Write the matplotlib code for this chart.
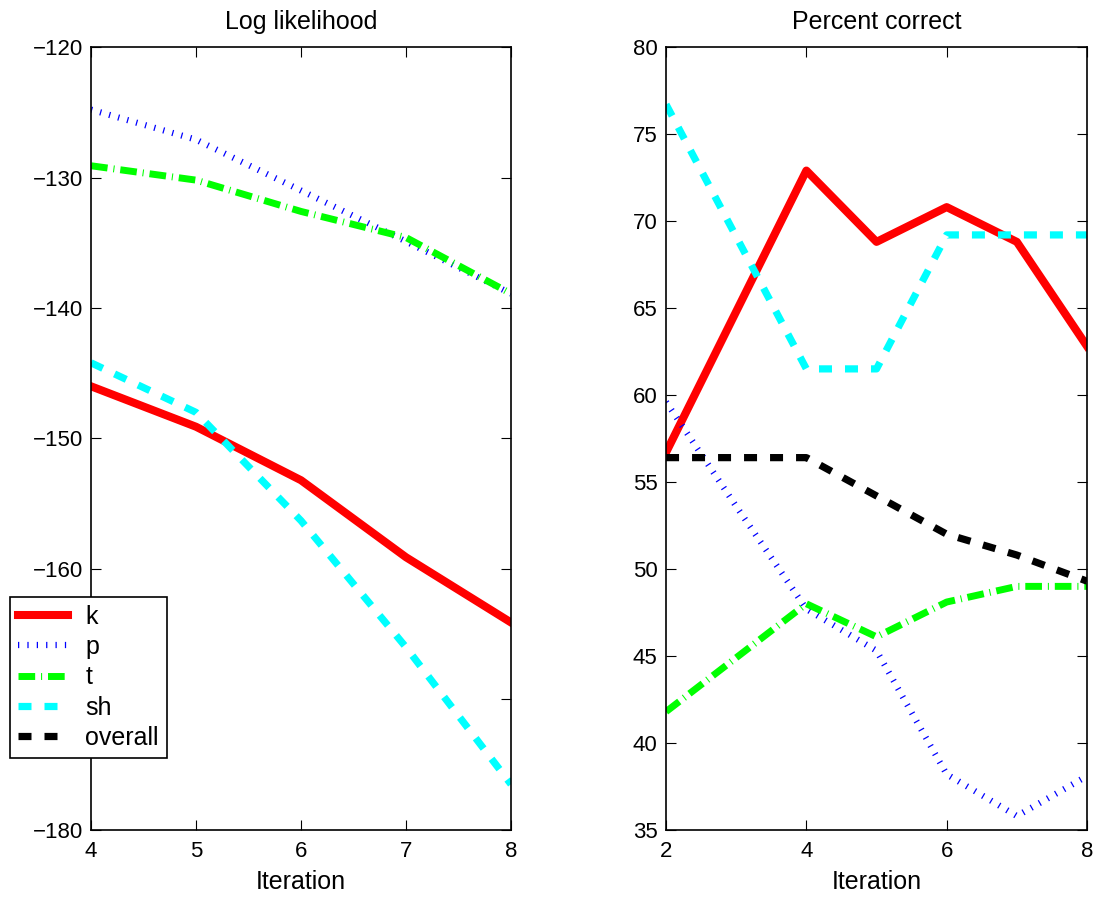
import matplotlib
matplotlib.use("Agg")
import matplotlib.pyplot as plt

plt.rcParams['font.family'] = ['Liberation Sans', 'DejaVu Sans']

# log likelihood per iteration
it_ll = [4, 5, 6, 7, 8]
ll_k = [-146.0, -149.1, -153.2, -159.1, -164.1]
ll_p = [-124.8, -127.1, -131.0, -134.9, -138.9]
ll_t = [-129.1, -130.2, -132.6, -134.6, -138.9]
ll_sh = [-144.2, -148.0, -156.3, -166.0, -176.5]

# percent correct per iteration
it_pc = [2, 3, 4, 5, 6, 7, 8]
pc_k = [56.7, 64.8, 72.9, 68.8, 70.8, 68.8, 62.8]
pc_p = [59.6, 53.6, 47.7, 45.3, 38.2, 35.8, 38.1]
pc_t = [41.8, 44.9, 48.0, 46.1, 48.1, 49.0, 49.0]
pc_sh = [76.7, 69.1, 61.5, 61.5, 69.2, 69.2, 69.2]
pc_all = [56.4, 56.4, 56.4, 54.2, 52.0, 50.8, 49.3]

labels = ['k', 'p', 't', 'sh', 'overall']

styles = {
    'k': dict(color='#ff0000', lw=5.8, ls='-'),
    'p': dict(color='#0000ff', lw=4.5, ls=(0, (0.2, 1.3)), dash_capstyle='butt'),
    't': dict(color='#00ff00', lw=5.0, ls=(0, (2.4, 0.85, 0.15, 0.85)), dash_capstyle='butt'),
    'sh': dict(color='#00ffff', lw=5.2, ls=(0, (1.8, 1.8)), dash_capstyle='butt'),
    'overall': dict(color='#000000', lw=5.2, ls=(0, (1.8, 1.8)), dash_capstyle='butt'),
}

tick_fs = 16
lab_fs = 18
fig = plt.figure(figsize=(11.02, 8.99), dpi=100)
ax1 = fig.add_axes([0.0826, 0.0768, 0.3811, 0.8709])
ax2 = fig.add_axes([0.6044, 0.0768, 0.3820, 0.8709])

handles = []
for name, ys in zip(labels[:4], [ll_k, ll_p, ll_t, ll_sh]):
    h, = ax1.plot(it_ll, ys, label=name, **styles[name])
    handles.append(h)
h, = ax1.plot([], [], label='overall', **styles['overall'])
handles.append(h)

for name, ys in zip(labels, [pc_k, pc_p, pc_t, pc_sh, pc_all]):
    ax2.plot(it_pc, ys, label=name, **styles[name])

ax1.set_xlim(4, 8)
ax1.set_ylim(-180, -120)
ax1.set_xticks([4, 5, 6, 7, 8])
ax1.set_yticks(range(-180, -119, 10))
ax1.set_title('Log likelihood', fontsize=lab_fs, pad=13)
ax1.set_xlabel('Iteration', fontsize=lab_fs, labelpad=6)

ax2.set_xlim(2, 8)
ax2.set_ylim(35, 80)
ax2.set_xticks([2, 4, 6, 8])
ax2.set_yticks(range(35, 81, 5))
ax2.set_title('Percent correct', fontsize=lab_fs, pad=13)
ax2.set_xlabel('Iteration', fontsize=lab_fs, labelpad=6)

for ax in (ax1, ax2):
    ax.tick_params(direction='in', top=True, right=True, length=7, width=0.8,
                   labelsize=tick_fs)
    ax.tick_params(axis='x', pad=8)
    ax.tick_params(axis='y', pad=6)
    for s in ax.spines.values():
        s.set_linewidth(1.2)

leg = fig.legend(handles=handles, labels=labels, loc='lower left',
                 bbox_to_anchor=(0.009, 0.157), fontsize=lab_fs, frameon=True,
                 fancybox=False, edgecolor='black', framealpha=1,
                 handlelength=2.0, handletextpad=0.7, labelspacing=0.25,
                 borderpad=0.32, borderaxespad=0)
leg.get_frame().set_linewidth(1.2)

fig.savefig('out.png', dpi=100)
